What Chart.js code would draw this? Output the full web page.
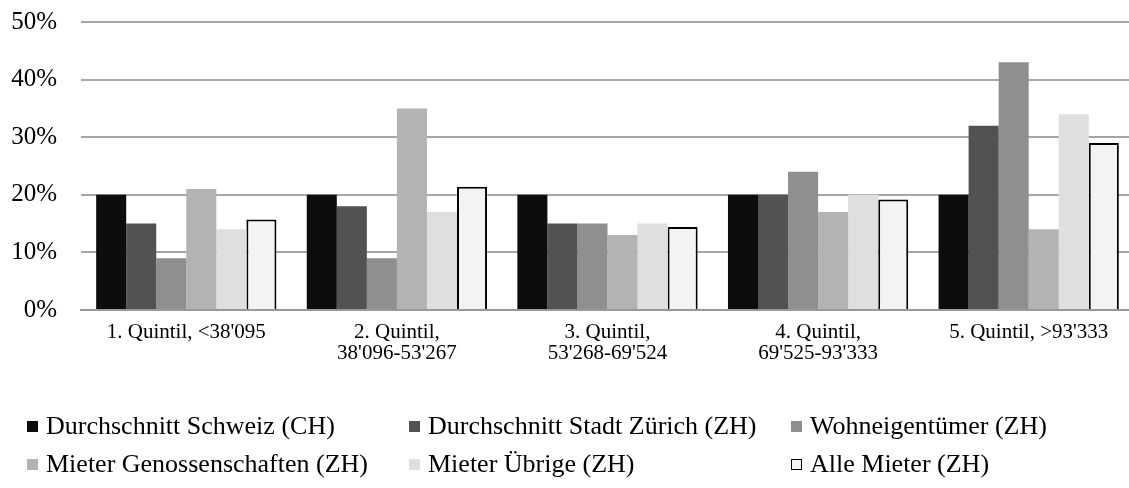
<!DOCTYPE html>
<html>
<head>
<meta charset="utf-8">
<script src="https://cdn.jsdelivr.net/npm/chart.js@4"></script>
<style>
  body { margin: 0; background: #fff; overflow: hidden; font-family: "Liberation Serif", "Times New Roman", serif; }
  #wrap { position: relative; width: 1134px; height: 393px; margin-top: -17px; }
  #legend { position: absolute; left: 0; top: 0; width: 1129px; height: 488px; font-size: 26px; line-height: 30px; color: #000; }
  .item { position: absolute; display: flex; align-items: center; white-space: nowrap; }
  .box { width: 11px; height: 11px; margin-right: 8px; box-sizing: border-box; }
</style>
</head>
<body>
<div id="wrap"><canvas id="myChart"></canvas></div>
<div id="legend"></div>
<script>
const FONT = 'Liberation Serif';

// Kategorien (Einkommensquintile)
const categories = [
    ['1. Quintil, <38\'095'],
    ['2. Quintil,', '38\'096-53\'267'],
    ['3. Quintil,', '53\'268-69\'524'],
    ['4. Quintil,', '69\'525-93\'333'],
    ['5. Quintil, >93\'333']
];

// Werte in Prozent
const schweiz       = [20, 20, 20, 20, 20];
const stadtZuerich  = [15, 18, 15, 20, 32];
const eigentuemer   = [9, 9, 15, 24, 43];
const genossen      = [21, 35, 13, 17, 14];
const uebrige       = [14, 17, 15, 20, 34];
const alleMieter    = [15.7, 21.4, 14.4, 19.2, 29];

const seriesNames = [
    'Durchschnitt Schweiz (CH)',
    'Durchschnitt Stadt Zürich (ZH)',
    'Wohneigentümer (ZH)',
    'Mieter Genossenschaften (ZH)',
    'Mieter Übrige (ZH)',
    'Alle Mieter (ZH)'
];
const seriesValues = [schweiz, stadtZuerich, eigentuemer, genossen, uebrige, alleMieter];
const seriesColors = ['#0d0d0d', '#525252', '#8f8f8f', '#b3b3b3', '#dfdfdf', '#f3f3f3'];

const datasets = seriesValues.map((vals, i) => ({
    label: seriesNames[i],
    data: vals,
    backgroundColor: seriesColors[i],
    borderColor: i === 5 ? '#000' : seriesColors[i],
    borderWidth: i === 5 ? 2 : 0,
    borderSkipped: 'bottom',
    categoryPercentage: 0.856,
    barPercentage: 1.0
}));

const ctx = document.getElementById('myChart').getContext('2d');
new Chart(ctx, {
    type: 'bar',
    data: { labels: categories, datasets: datasets },
    options: {
        responsive: true,
        maintainAspectRatio: false,
        animation: false,
        layout: { padding: { top: 9, right: 0, left: 0, bottom: 0 } },
        plugins: { legend: { display: false }, tooltip: { enabled: false } },
        scales: {
            x: {
                grid: { display: false, drawTicks: false },
                border: { display: true, color: '#999', width: 2 },
                ticks: {
                    color: '#000',
                    padding: 12,
                    maxRotation: 0,
                    font: { family: FONT, size: 21, lineHeight: 1.0 }
                }
            },
            y: {
                min: 0,
                max: 50,
                afterFit: (scale) => { scale.width = 81; },
                grid: { color: '#a6a6a6', lineWidth: 2, drawTicks: false },
                border: { display: false },
                ticks: {
                    stepSize: 10,
                    color: '#000',
                    padding: 24,
                    font: { family: FONT, size: 25 },
                    callback: (v) => v + '%'
                }
            }
        }
    }
});

// Legende als HTML (drei Spalten, zwei Zeilen), Seitenkoordinaten
const legendPos = [
    [27, 411], [409, 411], [791, 411],
    [27, 449], [409, 449], [791, 449]
];
const legend = document.getElementById('legend');
seriesNames.forEach((name, i) => {
    const item = document.createElement('div');
    item.className = 'item';
    item.style.left = legendPos[i][0] + 'px';
    item.style.top = legendPos[i][1] + 'px';
    const box = document.createElement('span');
    box.className = 'box';
    box.style.background = seriesColors[i];
    if (i === 5) box.style.border = '1.5px solid #000';
    item.appendChild(box);
    item.appendChild(document.createTextNode(name));
    legend.appendChild(item);
});
</script>
</body>
</html>
